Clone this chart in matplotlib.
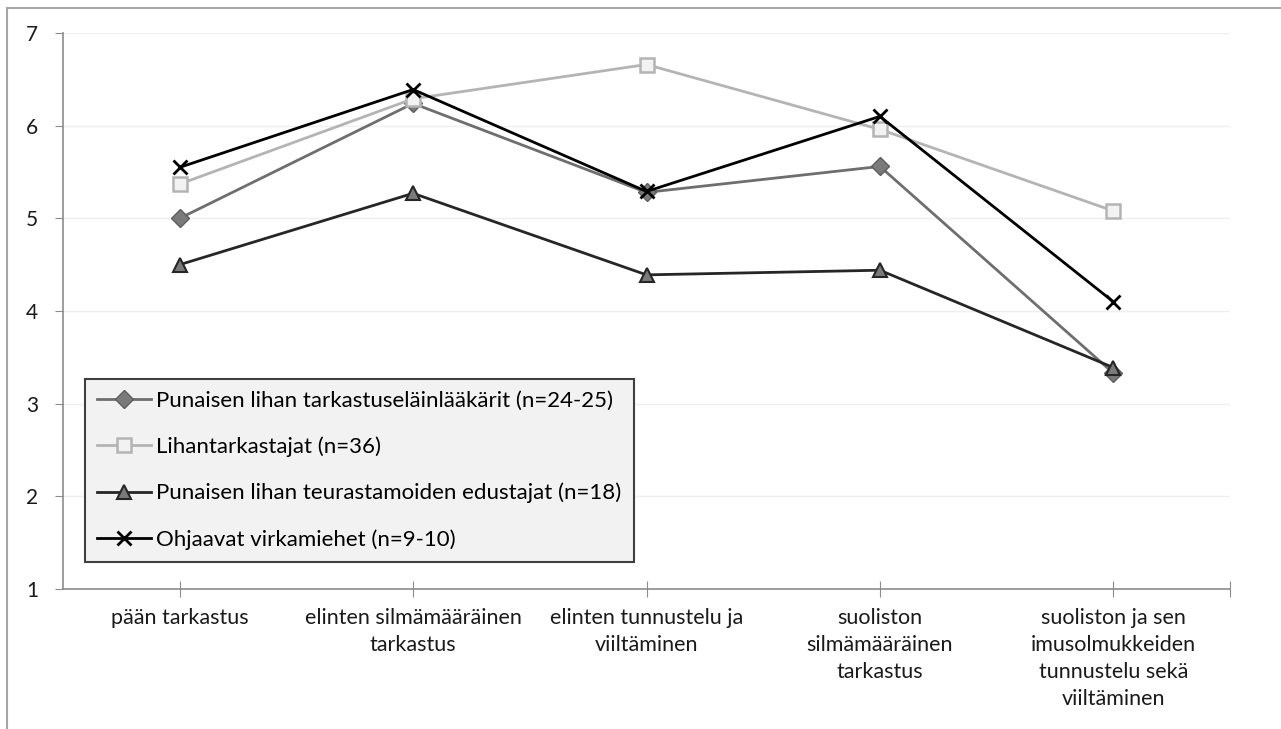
import matplotlib.pyplot as plt
from matplotlib.patches import Rectangle

plt.rcParams['font.family'] = ['Lato', 'DejaVu Sans']

categories = ['pään tarkastus',
              'elinten silmämääräinen\ntarkastus',
              'elinten tunnustelu ja\nviiltäminen',
              'suoliston\nsilmämääräinen\ntarkastus',
              'suoliston ja sen\nimusolmukkeiden\ntunnustelu sekä\nviiltäminen']

labels = ['Punaisen lihan tarkastuseläinlääkärit (n=24-25)',
          'Lihantarkastajat (n=36)',
          'Punaisen lihan teurastamoiden edustajat (n=18)',
          'Ohjaavat virkamiehet (n=9-10)']

elainlaakarit = [5.00, 6.24, 5.28, 5.56, 3.33]
lihantarkastajat = [5.37, 6.29, 6.66, 5.96, 5.08]
teurastamot = [4.50, 5.27, 4.39, 4.44, 3.39]
virkamiehet = [5.55, 6.39, 5.29, 6.10, 4.10]

series = [elainlaakarit, lihantarkastajat, teurastamot, virkamiehet]
styles = [
    dict(color='#6e6e6e', marker='D', markersize=9, mfc='#7a7a7a', mec='#5e5e5e'),
    dict(color='#b4b4b4', marker='s', markersize=10, mfc='#f2f2f2', mec='#b4b4b4', mew=1.8),
    dict(color='#262626', marker='^', markersize=10, mfc='#7a7a7a', mec='#262626', mew=1.5),
    dict(color='#000000', marker='x', markersize=10, mew=2),
]

fig = plt.figure(figsize=(12.81, 7.29), dpi=100)
ax = fig.add_axes([63/1281, 1 - 589/729, (1230 - 63)/1281, (589 - 33)/729])

x = list(range(len(categories)))
for vals, lab, st in zip(series, labels, styles):
    ax.plot(x, vals, label=lab, lw=2, **st)

ax.set_xlim(-0.5, 4.5)
ax.set_ylim(1, 7)
ax.set_yticks(range(1, 8))
ax.grid(axis='y', color='#efefef', lw=1)
ax.set_axisbelow(True)

ax.set_xticks(x + [4.5])
ax.set_xticklabels(categories + [''], fontsize=15.5, color='#1a1a1a', linespacing=1.42)
ax.tick_params(axis='x', direction='inout', length=12, color='#8c8c8c', pad=8)
ax.tick_params(axis='y', direction='out', length=6, color='#8c8c8c', labelsize=15, pad=12)
for lab in ax.get_yticklabels():
    lab.set_color('#1a1a1a')

for s in ['top', 'right']:
    ax.spines[s].set_visible(False)
for s in ['left', 'bottom']:
    ax.spines[s].set_color('#8c8c8c')
    ax.spines[s].set_linewidth(1.2)

leg = ax.legend(loc='upper left', bbox_to_anchor=(0.019, 0.378), fontsize=16,
                frameon=True, fancybox=False, framealpha=1, handlelength=2.4,
                handletextpad=0.25, labelspacing=1.15, borderpad=0.55,
                borderaxespad=0)
leg.get_frame().set_facecolor('#f2f2f2')
leg.get_frame().set_edgecolor('#404040')
leg.get_frame().set_linewidth(1.5)

# outer chart frame
fig.patches.append(Rectangle((7/1281, -0.1), 1.2, 1 - 8/729 + 0.1,
                             transform=fig.transFigure, fill=False,
                             edgecolor='#a6a6a6', lw=1.5))

plt.savefig('out.png', dpi=100)
